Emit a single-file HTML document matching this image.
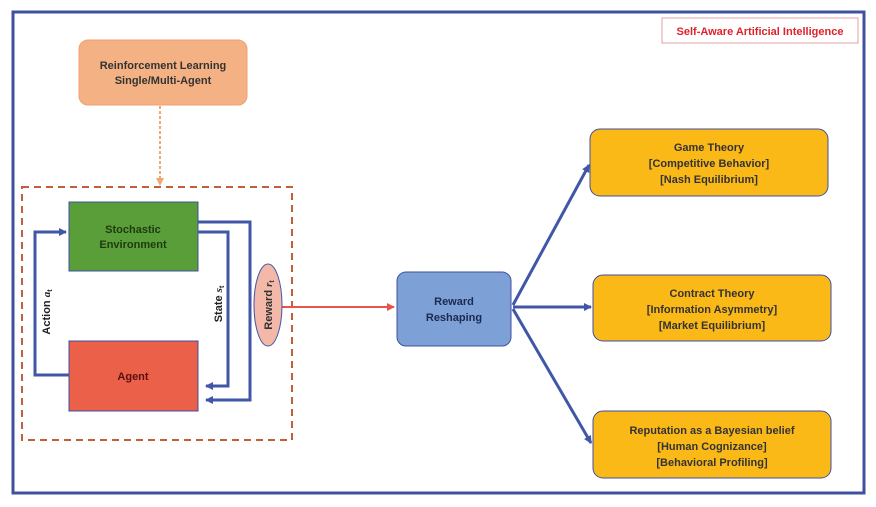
<!DOCTYPE html>
<html><head><meta charset="utf-8"><style>
body{margin:0;background:#fff;}
svg text{font-family:"Liberation Sans",sans-serif;font-weight:bold;}
</style></head><body>
<svg width="876" height="502" viewBox="0 0 876 502" xmlns="http://www.w3.org/2000/svg">
<defs>
<marker id="ab" markerWidth="8" markerHeight="8" refX="7" refY="4" orient="auto" markerUnits="userSpaceOnUse"><path d="M0,0 L8,4 L0,8 Z" fill="#4057a8"/></marker>
<marker id="ar" markerWidth="8" markerHeight="8" refX="7" refY="4" orient="auto" markerUnits="userSpaceOnUse"><path d="M0,0 L8,4 L0,8 Z" fill="#e8534a"/></marker>
<marker id="ao" markerWidth="8" markerHeight="8" refX="7" refY="4" orient="auto" markerUnits="userSpaceOnUse"><path d="M0,0 L8,4 L0,8 Z" fill="#f1a870"/></marker>
</defs>
<rect x="13" y="12" width="851" height="481" fill="#fff" stroke="#3f50a0" stroke-width="3"/>
<rect x="662" y="18" width="196" height="25" fill="#fff" stroke="#e0a0a0" stroke-width="1"/>
<text x="760" y="35" font-size="11" fill="#e0202a" text-anchor="middle">Self-Aware Artificial Intelligence</text>
<rect x="79" y="40" width="168" height="65" rx="9" fill="#f4b183" stroke="#f0a070" stroke-width="1"/>
<text x="163" y="69" font-size="11" fill="#333" text-anchor="middle">Reinforcement Learning</text>
<text x="163" y="84" font-size="11" fill="#333" text-anchor="middle">Single/Multi-Agent</text>
<line x1="160" y1="106" x2="160" y2="185" stroke="#f1a870" stroke-width="2" stroke-dasharray="3,2" marker-end="url(#ao)"/>
<rect x="22" y="187" width="270" height="253" fill="none" stroke="#c0603a" stroke-width="2" stroke-dasharray="7,5"/>
<rect x="69" y="202" width="129" height="69" fill="#5a9e3a" stroke="#3f50a0" stroke-width="1"/>
<text x="133" y="233" font-size="11" fill="#1e3a10" text-anchor="middle">Stochastic</text>
<text x="133" y="248" font-size="11" fill="#1e3a10" text-anchor="middle">Environment</text>
<rect x="69" y="341" width="129" height="70" fill="#ea6048" stroke="#3f50a0" stroke-width="1"/>
<text x="133" y="380" font-size="11" fill="#5a1010" text-anchor="middle">Agent</text>
<polyline points="69,375 35,375 35,232 66,232" fill="none" stroke="#4057a8" stroke-width="3" marker-end="url(#ab)"/>
<polyline points="198,232 228,232 228,386 206,386" fill="none" stroke="#4057a8" stroke-width="3" marker-end="url(#ab)"/>
<polyline points="198,222 250,222 250,400 206,400" fill="none" stroke="#4057a8" stroke-width="3" marker-end="url(#ab)"/>
<text transform="translate(50,312) rotate(-90)" font-size="11" fill="#222" text-anchor="middle">Action <tspan font-style="italic" font-family="Liberation Serif">a</tspan><tspan font-size="7" dy="2">t</tspan></text>
<text transform="translate(222,304) rotate(-90)" font-size="11" fill="#222" text-anchor="middle">State <tspan font-style="italic" font-family="Liberation Serif">s</tspan><tspan font-size="7" dy="2">t</tspan></text>
<line x1="282" y1="307" x2="394" y2="307" stroke="#e8534a" stroke-width="2" marker-end="url(#ar)"/>
<ellipse cx="268" cy="305" rx="14" ry="41" fill="#f4b8a8" stroke="#4057a8" stroke-width="1"/>
<text transform="translate(272,305) rotate(-90)" font-size="11" fill="#333" text-anchor="middle">Reward <tspan font-style="italic" font-family="Liberation Serif">r</tspan><tspan font-size="7" dy="2">t</tspan></text>
<rect x="397" y="272" width="114" height="74" rx="9" fill="#7da0d6" stroke="#3f50a0" stroke-width="1"/>
<text x="454" y="305" font-size="11" fill="#1a2a50" text-anchor="middle">Reward</text>
<text x="454" y="321" font-size="11" fill="#1a2a50" text-anchor="middle">Reshaping</text>
<line x1="513" y1="305" x2="589" y2="165" stroke="#4057a8" stroke-width="3" marker-end="url(#ab)"/>
<line x1="513" y1="307" x2="591" y2="307" stroke="#4057a8" stroke-width="3" marker-end="url(#ab)"/>
<line x1="513" y1="309" x2="591" y2="443" stroke="#4057a8" stroke-width="3" marker-end="url(#ab)"/>
<rect x="590" y="129" width="238" height="67" rx="10" fill="#fbb917" stroke="#3f50a0" stroke-width="1"/>
<text x="709" y="151" font-size="11" fill="#333" text-anchor="middle">Game Theory</text>
<text x="709" y="167" font-size="11" fill="#333" text-anchor="middle">[Competitive Behavior]</text>
<text x="709" y="183" font-size="11" fill="#333" text-anchor="middle">[Nash Equilibrium]</text>
<rect x="593" y="275" width="238" height="66" rx="10" fill="#fbb917" stroke="#3f50a0" stroke-width="1"/>
<text x="712" y="297" font-size="11" fill="#333" text-anchor="middle">Contract Theory</text>
<text x="712" y="313" font-size="11" fill="#333" text-anchor="middle">[Information Asymmetry]</text>
<text x="712" y="329" font-size="11" fill="#333" text-anchor="middle">[Market Equilibrium]</text>
<rect x="593" y="411" width="238" height="67" rx="10" fill="#fbb917" stroke="#3f50a0" stroke-width="1"/>
<text x="712" y="434" font-size="11" fill="#333" text-anchor="middle">Reputation as a Bayesian belief</text>
<text x="712" y="450" font-size="11" fill="#333" text-anchor="middle">[Human Cognizance]</text>
<text x="712" y="466" font-size="11" fill="#333" text-anchor="middle">[Behavioral Profiling]</text>
</svg>
</body></html>
